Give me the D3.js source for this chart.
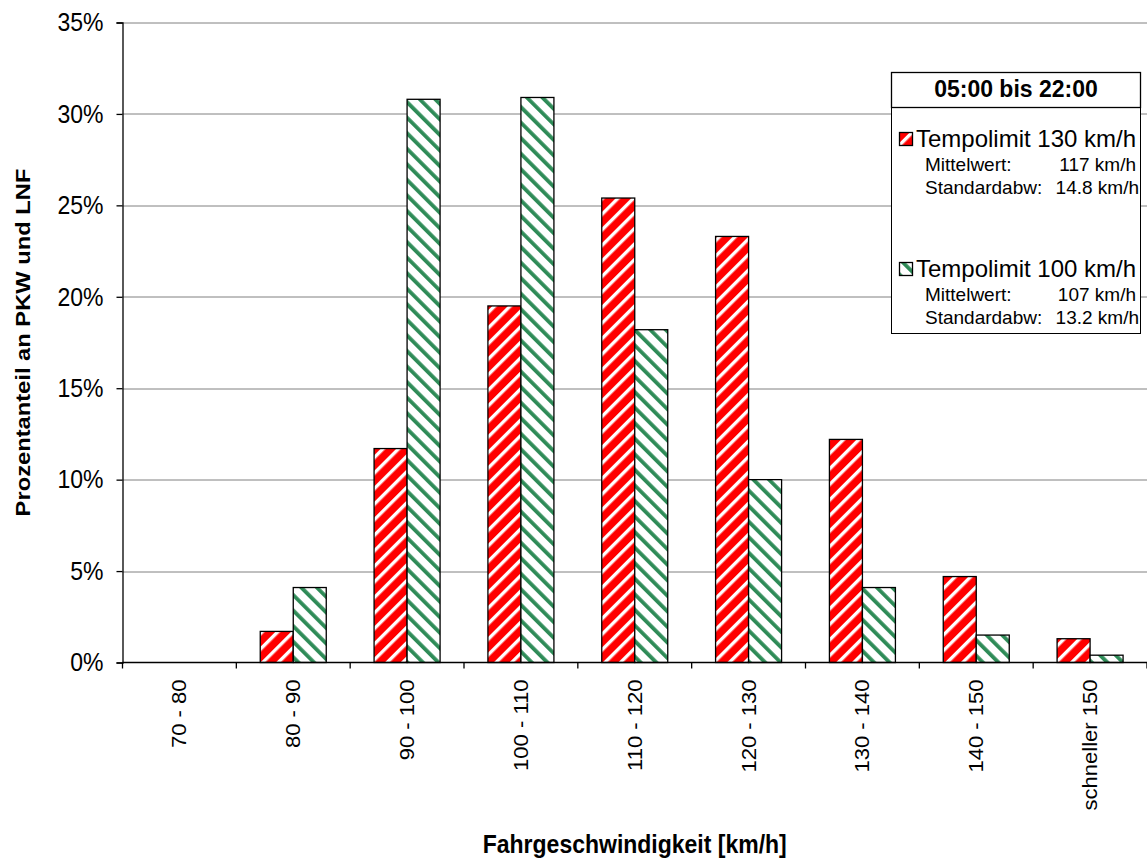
<!DOCTYPE html>
<html>
<head>
<meta charset="utf-8">
<script src="https://cdn.jsdelivr.net/npm/d3@7"></script>
<style>
  html, body { margin: 0; padding: 0; background: #fff; }
  svg { display: block; font-family: Arial, "Liberation Sans", sans-serif; }
</style>
</head>
<body>
<svg id="chart" width="1147" height="859"></svg>
<script>
// Speed classes (km/h)
const categories = ["70 - 80", "80 - 90", "90 - 100", "100 - 110", "110 - 120",
                    "120 - 130", "130 - 140", "140 - 150", "schneller 150"];
// Share of cars and light vans per speed class, in percent
const limit130 = [0, 1.7, 11.7, 19.5, 25.4, 23.3, 12.2, 4.7, 1.3];
const limit100 = [0, 4.1, 30.8, 30.9, 18.2, 10.0, 4.1, 1.5, 0.4];
const yTicks = [0, 5, 10, 15, 20, 25, 30, 35];
const seriesNames = ["Tempolimit 130 km/h", "Tempolimit 100 km/h"];
const seriesStats = [
  { mean: "117 km/h", sd: "14.8 km/h" },
  { mean: "107 km/h", sd: "13.2 km/h" }
];
const legendTitle = "05:00 bis 22:00";

const svg = d3.select("#chart");
const margin = { left: 122.5, right: 0, top: 22.5, bottom: 196.5 };
const W = 1147, H = 859;
const plotW = W - margin.left - margin.right;
const plotH = H - margin.top - margin.bottom;
const tall = 1.13; // axis lettering is set slightly taller than wide

const x = d3.scaleBand().domain(categories).range([0, plotW]).paddingInner(0).paddingOuter(0);
const y = d3.scaleLinear().domain([0, 35]).range([plotH, 0]);

// Stripe patterns
const defs = svg.append("defs");
const red = defs.append("pattern").attr("id", "redStripes")
  .attr("patternUnits", "userSpaceOnUse").attr("width", 11).attr("height", 11)
  .attr("patternTransform", "rotate(45)");
red.append("rect").attr("width", 11).attr("height", 11).attr("fill", "#ff0000");
red.append("rect").attr("x", 0).attr("width", 3.4).attr("height", 11).attr("fill", "#ffffff");

const green = defs.append("pattern").attr("id", "greenStripes")
  .attr("patternUnits", "userSpaceOnUse").attr("width", 11).attr("height", 11)
  .attr("patternTransform", "rotate(-45)");
green.append("rect").attr("width", 11).attr("height", 11).attr("fill", "#ffffff");
green.append("rect").attr("x", 0).attr("width", 3.8).attr("height", 11).attr("fill", "#2e8b57");

const g = svg.append("g").attr("transform", `translate(${margin.left},${margin.top})`);

// Horizontal gridlines
g.append("g").selectAll("line").data(yTicks.filter(d => d > 0)).join("line")
  .attr("x1", 0).attr("x2", plotW)
  .attr("y1", d => Math.round(y(d)) + 0.5).attr("y2", d => Math.round(y(d)) + 0.5)
  .attr("stroke", "#808080").attr("stroke-width", 1);

// Bars
const barW = 33;
const series = [
  { values: limit130, fill: "url(#redStripes)", offset: -barW },
  { values: limit100, fill: "url(#greenStripes)", offset: 0 }
];
series.forEach(s => {
  g.append("g").selectAll("rect").data(categories.map((c, i) => ({ c, v: s.values[i] })))
    .join("rect")
    .filter(d => d.v > 0)
    .attr("x", d => x(d.c) + x.bandwidth() / 2 + s.offset)
    .attr("y", d => y(d.v))
    .attr("width", barW)
    .attr("height", d => y(0) - y(d.v))
    .attr("fill", s.fill)
    .attr("stroke", "#000").attr("stroke-width", 1.3);
});

// Y axis
const yAxis = d3.axisLeft(y).tickValues(yTicks).tickFormat(d => d + "%").tickSize(6).tickPadding(13);
const ya = g.append("g").call(yAxis);
ya.select(".domain").attr("stroke", "#000").attr("stroke-width", 1.3);
ya.selectAll(".tick line").attr("stroke", "#000").attr("stroke-width", 1.3);
ya.selectAll(".tick text").attr("font-size", 23).attr("fill", "#000")
  .attr("font-family", "Arial, 'Liberation Sans', sans-serif")
  .attr("transform", `scale(1,${tall})`);

// X axis: ticks at category boundaries
const xa = g.append("g").attr("transform", `translate(0,${plotH})`);
xa.append("line").attr("x1", 0).attr("x2", plotW).attr("y1", 0).attr("y2", 0)
  .attr("stroke", "#000").attr("stroke-width", 1.3);
xa.selectAll("line.tk").data(d3.range(categories.length + 1)).join("line").attr("class", "tk")
  .attr("x1", i => i * x.step()).attr("x2", i => i * x.step())
  .attr("y1", 0).attr("y2", 6).attr("stroke", "#000").attr("stroke-width", 1.3);
xa.selectAll("text").data(categories).join("text")
  .attr("transform", d => `translate(${x(d) + x.bandwidth() / 2 + 7},17) scale(1,${tall}) rotate(-90)`)
  .attr("text-anchor", "end")
  .attr("font-size", 19.5).attr("fill", "#000")
  .text(d => d);

// Axis titles
svg.append("text")
  .attr("transform", `translate(30,${margin.top + plotH / 2}) scale(1,${tall}) rotate(-90)`)
  .attr("text-anchor", "middle").attr("font-size", 21).attr("font-weight", "bold")
  .text("Prozentanteil an PKW und LNF");
svg.append("text")
  .attr("transform", `translate(${margin.left + plotW / 2},853) scale(1,${tall})`)
  .attr("text-anchor", "middle").attr("font-size", 23).attr("font-weight", "bold")
  .text("Fahrgeschwindigkeit [km/h]");

// Legend
const lg = svg.append("g");
lg.append("rect").attr("x", 891.5).attr("y", 107.5).attr("width", 249).attr("height", 226)
  .attr("fill", "#fff").attr("stroke", "#000").attr("stroke-width", 1);
lg.append("rect").attr("x", 891.5).attr("y", 72.5).attr("width", 249).attr("height", 35)
  .attr("fill", "#fff").attr("stroke", "#000").attr("stroke-width", 1.3);
lg.append("text").attr("x", 1016).attr("y", 97).attr("text-anchor", "middle")
  .attr("font-size", 23).attr("font-weight", "bold").text(legendTitle);

const fills = ["url(#redStripes)", "url(#greenStripes)"];
const groupY = [147, 277];
seriesNames.forEach((name, i) => {
  const by = groupY[i];
  lg.append("rect").attr("x", 899.5).attr("y", by - 14.5).attr("width", 13).attr("height", 13)
    .attr("fill", fills[i]).attr("stroke", "#000").attr("stroke-width", 1.3);
  lg.append("text").attr("x", 916).attr("y", by).attr("font-size", 24).text(name);
  lg.append("text").attr("x", 925).attr("y", by + 24).attr("font-size", 19).text("Mittelwert:");
  lg.append("text").attr("x", 1136).attr("y", by + 24).attr("font-size", 19)
    .attr("text-anchor", "end").text(seriesStats[i].mean);
  lg.append("text").attr("x", 925).attr("y", by + 47).attr("font-size", 19).text("Standardabw:");
  lg.append("text").attr("x", 1139).attr("y", by + 47).attr("font-size", 19)
    .attr("text-anchor", "end").text(seriesStats[i].sd);
});
</script>
</body>
</html>
